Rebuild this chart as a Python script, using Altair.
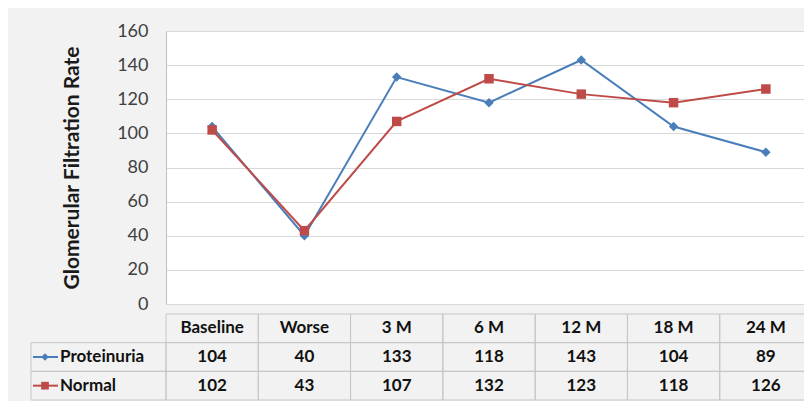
import altair as alt
import pandas as pd

categories = ["Baseline", "Worse", "3 M", "6 M", "12 M", "18 M", "24 M"]
series_names = ["Proteinuria", "Normal"]
proteinuria = [104, 40, 133, 118, 143, 104, 89]
normal = [102, 43, 107, 132, 123, 118, 126]
y_ticks = [0, 20, 40, 60, 80, 100, 120, 140, 160]

colors = ["#4a7ebb", "#be4b48"]
shapes = ["diamond", "square"]
FONT = "Lato"

rows = []
for s, vals in zip(series_names, [proteinuria, normal]):
    for c, v in zip(categories, vals):
        rows.append({"cat": c, "series": s, "value": v})
df = pd.DataFrame(rows)

W = 646
xscale = alt.Scale(domain=categories, paddingInner=0, paddingOuter=0)
color = alt.Color("series:N", scale=alt.Scale(domain=series_names, range=colors), legend=None)
shape = alt.Shape("series:N", scale=alt.Scale(domain=series_names, range=shapes), legend=None)

x_top = alt.X("cat:N", scale=xscale, sort=categories, axis=None, bandPosition=0.5)
y_top = alt.Y(
    "value:Q",
    scale=alt.Scale(domain=[0, 160], nice=False),
    axis=alt.Axis(
        values=y_ticks,
        title="Glomerular Filtration Rate",
        titleFont=FONT, titleFontSize=21, titleFontWeight="bold", titleColor="#1a1a1a",
        titlePadding=34,
        labelFont=FONT, labelFontSize=18, labelColor="#404040", labelPadding=18,
        ticks=False, domainColor="#bfbfbf", grid=True, gridColor="#d9d9d9",
    ),
)

base = alt.Chart(df)
lines = base.mark_line(strokeWidth=2).encode(x=x_top, y=y_top, color=color)
pts = base.mark_point(filled=True, opacity=1, size=90).encode(x=x_top, y=y_top, color=color, shape=shape)
top = alt.layer(lines, pts).properties(
    width=W, height=273, view=alt.ViewBackground(fill="white", stroke=None)
)

# table
row_names = ["header"] + series_names
cells = pd.DataFrame([{"cat": c, "row": r} for r in row_names for c in categories])
header = pd.DataFrame({"cat": categories, "row": ["header"] * len(categories)})
labels = pd.DataFrame({"series": series_names, "row": series_names})

yscale = alt.Scale(domain=row_names, paddingInner=0, paddingOuter=0)
x_t = alt.X("cat:N", scale=xscale, sort=categories, axis=None)
y_t = alt.Y("row:N", scale=yscale, axis=None)
grid_col = "#c6c6c6"

cell_rect = alt.Chart(cells).mark_rect(filled=False, stroke=grid_col, strokeWidth=1).encode(x=x_t, y=y_t)
head_txt = alt.Chart(header).mark_text(font=FONT, fontSize=17, fontWeight="bold", color="#111111").encode(
    x=alt.X("cat:N", scale=xscale, sort=categories, axis=None, bandPosition=0.5),
    y=alt.Y("row:N", scale=yscale, axis=None, bandPosition=0.5), text="cat:N")
val_txt = alt.Chart(df).mark_text(font=FONT, fontSize=17, fontWeight="bold", color="#111111").encode(
    x=alt.X("cat:N", scale=xscale, sort=categories, axis=None, bandPosition=0.5),
    y=alt.Y("series:N", scale=yscale, axis=None, bandPosition=0.5), text="value:Q")
lab_rect = alt.Chart(labels).mark_rect(filled=False, stroke=grid_col, strokeWidth=1).encode(
    x=alt.value(-135), x2=alt.value(0), y=y_t)
lab_txt = alt.Chart(labels).mark_text(font=FONT, fontSize=17, fontWeight="bold", color="#111111", align="left").encode(
    x=alt.value(-106), y=alt.Y("row:N", scale=yscale, axis=None, bandPosition=0.5), text="series:N")
lab_line = alt.Chart(labels).mark_rule(strokeWidth=2).encode(
    x=alt.value(-133), x2=alt.value(-108),
    y=alt.Y("row:N", scale=yscale, axis=None, bandPosition=0.5), color=color)
lab_pt = alt.Chart(labels).mark_point(filled=True, opacity=1, size=60).encode(
    x=alt.value(-121), y=alt.Y("row:N", scale=yscale, axis=None, bandPosition=0.5), color=color, shape=shape)

table = alt.layer(cell_rect, head_txt, val_txt, lab_rect, lab_line, lab_pt, lab_txt).properties(
    width=W, height=86, view=alt.ViewBackground(stroke=None)
)

chart = alt.vconcat(top, table, spacing=0).properties(
    background="#f2f2f2",
    padding={"left": 22, "top": 14, "right": -9, "bottom": 0},
).resolve_scale(color="shared", shape="shared")

chart.save("out.html", embed_options={"renderer": "svg", "actions": False})
